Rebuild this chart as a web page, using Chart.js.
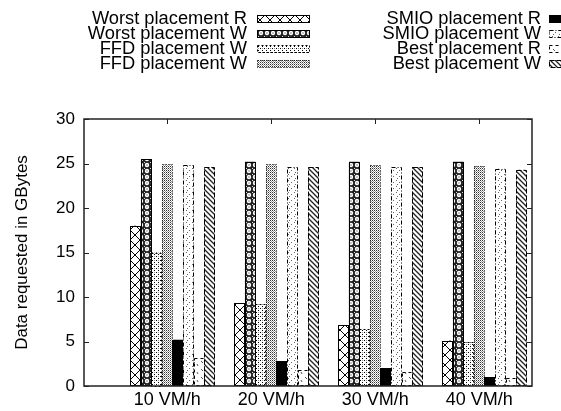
<!DOCTYPE html>
<html>
<head>
<meta charset="utf-8">
<script src="https://cdn.jsdelivr.net/npm/chart.js@4.4.0/dist/chart.umd.min.js"></script>
<style>
  html, body { margin: 0; padding: 0; background: #fff; }
</style>
</head>
<body>
<canvas id="chart" width="561" height="411"></canvas>
<script>
// donnees
const categories = ["10 VM/h", "20 VM/h", "30 VM/h", "40 VM/h"];
const seriesNames = [
    "Worst placement R", "Worst placement W",
    "FFD placement W", "FFD placement W",
    "SMIO placement R", "SMIO placement W",
    "Best placement R", "Best placement W"
];
const worstR = [18.0, 9.3, 6.8, 5.1];
const worstW = [25.5, 25.2, 25.2, 25.2];
const ffdR = [15.0, 9.2, 6.4, 4.9];
const ffdW = [24.9, 24.9, 24.8, 24.7];
const smioR = [5.2, 2.8, 2.0, 1.0];
const smioW = [24.8, 24.6, 24.6, 24.4];
const bestR = [3.1, 1.8, 1.6, 0.9];
const bestW = [24.6, 24.6, 24.6, 24.3];
const yTicks = [0, 5, 10, 15, 20, 25, 30];

const canvas = document.getElementById('chart');
const ctx = canvas.getContext('2d');

Chart.defaults.font.family = "'Liberation Sans', Arial, sans-serif";
Chart.defaults.color = '#000';

// motifs facon gnuplot
function makePattern(size, draw) {
    const c = document.createElement('canvas');
    c.width = size;
    c.height = size;
    const g = c.getContext('2d');
    g.fillStyle = '#fff';
    g.fillRect(0, 0, size, size);
    draw(g, size);
    return ctx.createPattern(c, 'repeat');
}

const patterns = [
    makePattern(10, (g, s) => { // croisillons
        g.strokeStyle = '#000';
        g.lineWidth = 1;
        g.beginPath();
        g.moveTo(0, 0); g.lineTo(s, s);
        g.moveTo(s, 0); g.lineTo(0, s);
        g.stroke();
    }),
    makePattern(6, (g, s) => { // chaine de cercles
        g.fillStyle = '#222';
        g.fillRect(0, 0, s, s);
        g.fillStyle = '#fff';
        g.beginPath();
        g.arc(3, 3, 2.2, 0, Math.PI * 2);
        g.fill();
        g.fillStyle = '#222';
        g.fillRect(2.5, 2.5, 1, 1);
        g.fillStyle = '#ddd';
        g.fillRect(0, 0, 1, 1);
    }),
    makePattern(4, (g) => { // points clairs
        g.fillStyle = '#000';
        g.fillRect(0, 0, 1, 1);
        g.fillRect(2, 2, 1, 1);
        g.fillStyle = '#999';
        g.fillRect(2, 0, 1, 1);
    }),
    makePattern(2, (g) => { // gris moyen
        g.fillStyle = '#333';
        g.fillRect(0, 0, 1, 1);
        g.fillStyle = '#999';
        g.fillRect(1, 1, 1, 1);
    }),
    '#000',
    makePattern(6, (g) => { // tres clair
        g.fillStyle = '#666';
        g.fillRect(0, 0, 1, 1);
        g.fillRect(3, 2, 1, 1);
        g.fillRect(1, 4, 1, 1);
    }),
    makePattern(8, (g) => { // petits tirets
        g.strokeStyle = '#555';
        g.lineWidth = 1;
        g.beginPath();
        g.moveTo(1, 1); g.lineTo(3, 3);
        g.moveTo(5, 4); g.lineTo(6, 6);
        g.stroke();
    }),
    makePattern(5, (g, s) => { // diagonales
        g.strokeStyle = '#222';
        g.lineWidth = 1.3;
        g.beginPath();
        g.moveTo(-1, -1); g.lineTo(s + 1, s + 1);
        g.moveTo(-1, s - 1); g.lineTo(1, s + 1);
        g.moveTo(s - 1, -1); g.lineTo(s + 1, 1);
        g.stroke();
    })
];
const dashes = [[], [], [2, 2], [1, 2], [], [4, 2, 1, 2], [3, 3], [5, 2]];
const values = [worstR, worstW, ffdR, ffdW, smioR, smioW, bestR, bestW];

const tickShift = 0.05; // gnuplot met la graduation sur la 4e barre

// contours pointilles des barres
const barOutlines = {
    id: 'barOutlines',
    afterDatasetsDraw(chart) {
        const c = chart.ctx;
        chart.data.datasets.forEach((ds, i) => {
            const meta = chart.getDatasetMeta(i);
            c.save();
            c.strokeStyle = '#000';
            c.lineWidth = 1;
            c.setLineDash(ds.outlineDash);
            meta.data.forEach(bar => {
                const p = bar.getProps(['x', 'y', 'base', 'width'], true);
                c.strokeRect(Math.round(p.x - p.width / 2) + 0.5, Math.round(p.y) + 0.5,
                    Math.round(p.width) - 1, Math.round(p.base - p.y) - 1);
            });
            c.restore();
        });
    }
};

// cadre + graduations interieures
const frame = {
    id: 'frame',
    afterDraw(chart) {
        const c = chart.ctx;
        const a = chart.chartArea;
        c.save();
        c.strokeStyle = '#222';
        c.lineWidth = 1.5;
        c.strokeRect(a.left, a.top, a.right - a.left, a.bottom - a.top);
        c.lineWidth = 1;
        c.beginPath();
        chart.scales.y.ticks.forEach(t => {
            const py = Math.round(chart.scales.y.getPixelForValue(t.value)) + 0.5;
            c.moveTo(a.left, py); c.lineTo(a.left + 5, py);
            c.moveTo(a.right, py); c.lineTo(a.right - 5, py);
        });
        chart.scales.x.ticks.forEach(t => {
            const px = Math.round(chart.scales.x.getPixelForValue(t.value)) + 0.5;
            c.moveTo(px, a.top); c.lineTo(px, a.top + 5);
        });
        c.stroke();
        c.restore();
    }
};

// legende sur deux colonnes, texte a droite aligne
const legendBox = {
    id: 'legendBox',
    afterDraw(chart) {
        const c = chart.ctx;
        c.save();
        c.font = "18.3px 'Liberation Sans', Arial, sans-serif";
        c.textAlign = 'right';
        c.textBaseline = 'middle';
        c.fillStyle = '#000';
        chart.data.datasets.forEach((ds, i) => {
            const col = Math.floor(i / 4);
            const row = i % 4;
            const textRight = col === 0 ? 247 : 541;
            const sx = col === 0 ? 257 : 549;
            const cy = 19 + row * 15;
            c.fillText(ds.label, textRight, cy);
            c.fillStyle = ds.backgroundColor;
            c.fillRect(sx, cy - 4, 53, 8);
            c.fillStyle = '#000';
            c.save();
            c.setLineDash(ds.outlineDash);
            c.lineWidth = 1;
            c.strokeRect(sx + 0.5, cy - 3.5, 52, 7);
            c.restore();
        });
        c.restore();
    }
};

new Chart(ctx, {
    type: 'bar',
    data: {
        datasets: seriesNames.map((name, i) => ({
            label: name,
            data: values[i].map((v, k) => ({ x: k, y: v })),
            backgroundColor: patterns[i],
            borderWidth: 0,
            outlineDash: dashes[i],
            categoryPercentage: 0.81,
            barPercentage: 1.0
        }))
    },
    options: {
        responsive: false,
        animation: false,
        layout: { padding: { top: 119, right: 29, left: 0, bottom: 0 } },
        plugins: {
            legend: { display: false },
            tooltip: { enabled: false }
        },
        scales: {
            x: {
                type: 'linear',
                min: -0.851,
                max: 3.457,
                offset: false,
                grid: { display: false, drawTicks: false },
                border: { display: false },
                afterBuildTicks: (scale) => {
                    scale.ticks = categories.map((c, i) => ({ value: i - tickShift }));
                },
                afterFit: (scale) => { scale.height = 25; },
                ticks: {
                    autoSkip: false,
                    maxRotation: 0,
                    padding: 3,
                    font: { size: 18 },
                    callback: (v, i) => categories[i]
                }
            },
            y: {
                min: 0,
                max: 30,
                grid: { display: false, drawTicks: false },
                border: { display: false },
                afterBuildTicks: (scale) => {
                    scale.ticks = yTicks.map(v => ({ value: v }));
                },
                afterFit: (scale) => { scale.width = 84; },
                ticks: {
                    padding: 9,
                    font: { size: 17 }
                },
                title: {
                    display: true,
                    text: 'Data requested in GBytes',
                    font: { size: 17 },
                    padding: { top: 12, bottom: 0 }
                }
            }
        }
    },
    plugins: [barOutlines, frame, legendBox]
});
</script>
</body>
</html>
